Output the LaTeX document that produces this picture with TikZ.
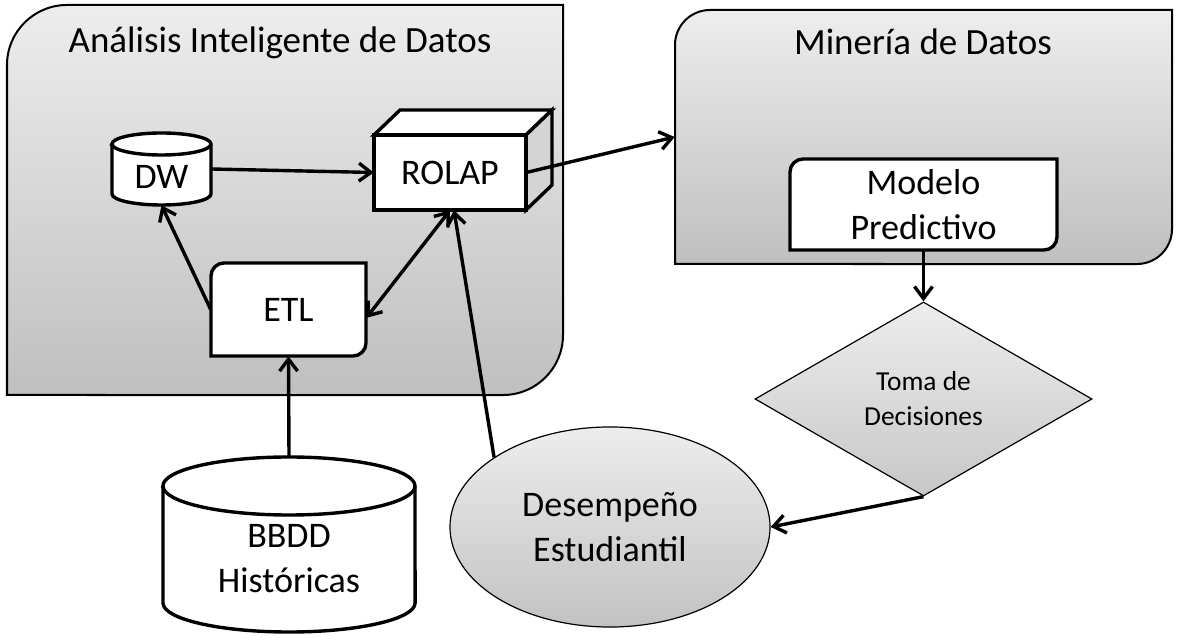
\documentclass[tikz,border=0pt]{standalone}
\usepackage{fontspec}
\setmainfont{Carlito}
\usetikzlibrary{arrows.meta,shapes.geometric,calc}
\begin{document}
\begin{tikzpicture}[x=0.025cm,y=-0.025cm,
  thickln/.style={line width=0.085cm},
  tipv/.tip={Straight Barb[length=0.3cm,width=0.45cm]},
  arr/.style={line width=0.085cm,-tipv},
  darr/.style={line width=0.085cm,tipv-tipv},
  contfill/.style={draw=black, line width=0.05cm, top color=black!7, bottom color=black!25},
  bigtxt/.style={font=\fontsize{25.6pt}{32pt}\selectfont, align=center},
  titletxt/.style={font=\fontsize{26.3pt}{32pt}\selectfont},
  smalltxt/.style={font=\fontsize{19.5pt}{25pt}\selectfont, align=center},
  box/.style={inner sep=0pt, draw=none},
]
\useasboundingbox (0,0) rectangle (1180,642);

% containers
\path[contfill] (7,395) -- (7,65) arc[start angle=180,end angle=90,radius=1.5cm] -- (563,5) -- (563,335) arc[start angle=0,end angle=-90,radius=1.5cm] -- cycle;
\node[box, minimum width=13.9cm, minimum height=9.75cm] (aid) at (285,200) {};
\node[titletxt, anchor=base] (aidt) at (280,53) {Análisis Inteligente de Datos};

\path[contfill] (675,264) -- (675,45) arc[start angle=180,end angle=90,radius=0.875cm] -- (1172,10) -- (1172,229) arc[start angle=0,end angle=-90,radius=0.875cm] -- cycle;
\node[box, minimum width=12.425cm, minimum height=6.35cm] (md) at (923.5,137) {};
\node[titletxt, anchor=base] (mdt) at (923,55) {Minería de Datos};

% DW cylinder
\path[thickln, draw, fill=white] (112,144) -- (112,194) arc[start angle=180,end angle=360,x radius=1.2375cm,y radius=0.275cm] -- (211,144) arc[start angle=0,end angle=180,x radius=1.2375cm,y radius=0.275cm] -- cycle;
\draw[thickln] (112,144) arc[start angle=180,end angle=360,x radius=1.2375cm,y radius=0.275cm];
\node[box, minimum width=2.475cm, minimum height=1.8cm, bigtxt, text height=0.95cm, text depth=0pt] (dw) at (161.5,169) {DW};

% ROLAP cube
\draw[thickln, fill=white] (374,135) -- (400,110) -- (552,110) -- (526,135) -- cycle;
\draw[thickln, fill=black!17] (526,135) -- (552,110) -- (552,185) -- (526,210) -- cycle;
\draw[thickln, fill=white] (374,135) rectangle (526,210);
\node[box, minimum width=3.8cm, minimum height=1.875cm, bigtxt] (rolap) at (450,172.5) {ROLAP};

% ETL
\draw[thickln, fill=white] (211,356) -- (211,276) arc[start angle=180,end angle=90,radius=0.325cm] -- (366,263) -- (366,343) arc[start angle=0,end angle=-90,radius=0.325cm] -- cycle;
\node[box, minimum width=3.875cm, minimum height=2.325cm, bigtxt] (etl) at (288.5,309.5) {ETL};

% Modelo Predictivo
\draw[thickln, fill=white] (790,250) -- (790,172) arc[start angle=180,end angle=90,radius=0.325cm] -- (1057,159) -- (1057,237) arc[start angle=0,end angle=-90,radius=0.325cm] -- cycle;
\node[box, minimum width=6.675cm, minimum height=2.275cm, bigtxt] (mp) at (923.5,204.5) {Modelo\\Predictivo};

% Decision diamond
\node[diamond, draw, line width=0.03cm, top color=black!7, bottom color=black!22, minimum width=8.425cm, minimum height=4.85cm, inner sep=0pt, smalltxt] (dec) at (923.5,399) {Toma de\\Decisiones};

% Ellipse
\node[ellipse, draw, line width=0.03cm, top color=black!7, bottom color=black!24, minimum width=8cm, minimum height=5cm, inner sep=0pt, bigtxt] (ell) at (610,527) {Desempeño\\Estudiantil};

% BBDD cylinder
\path[thickln, draw, fill=white] (163,486) -- (163,603) arc[start angle=180,end angle=360,x radius=3.15cm,y radius=0.725cm] -- (415,486) arc[start angle=0,end angle=180,x radius=3.15cm,y radius=0.725cm] -- cycle;
\draw[thickln] (163,486) arc[start angle=180,end angle=360,x radius=3.15cm,y radius=0.725cm];
\node[box, minimum width=6.3cm, minimum height=4.375cm, label={[bigtxt, yshift=-0.35cm]center:BBDD\\Históricas}] (bbdd) at (289,544.5) {};

% connectors
\draw[arr] (dw.east) -- (rolap.west);
\draw[arr] (etl.west) -- (dw.south);
\draw[darr] (rolap.south) -- ([yshift=-0.21cm]etl.east);
\draw[arr] (ell.149) -- ([xshift=0.1cm]rolap.south);
\draw[arr] (rolap.east) -- (md.west);
\draw[arr] (mp.south) -- (dec.north);
\draw[arr] (dec.south) -- (ell.east);
\draw[arr] (bbdd.north) -- (etl.south);
\end{tikzpicture}
\end{document}
